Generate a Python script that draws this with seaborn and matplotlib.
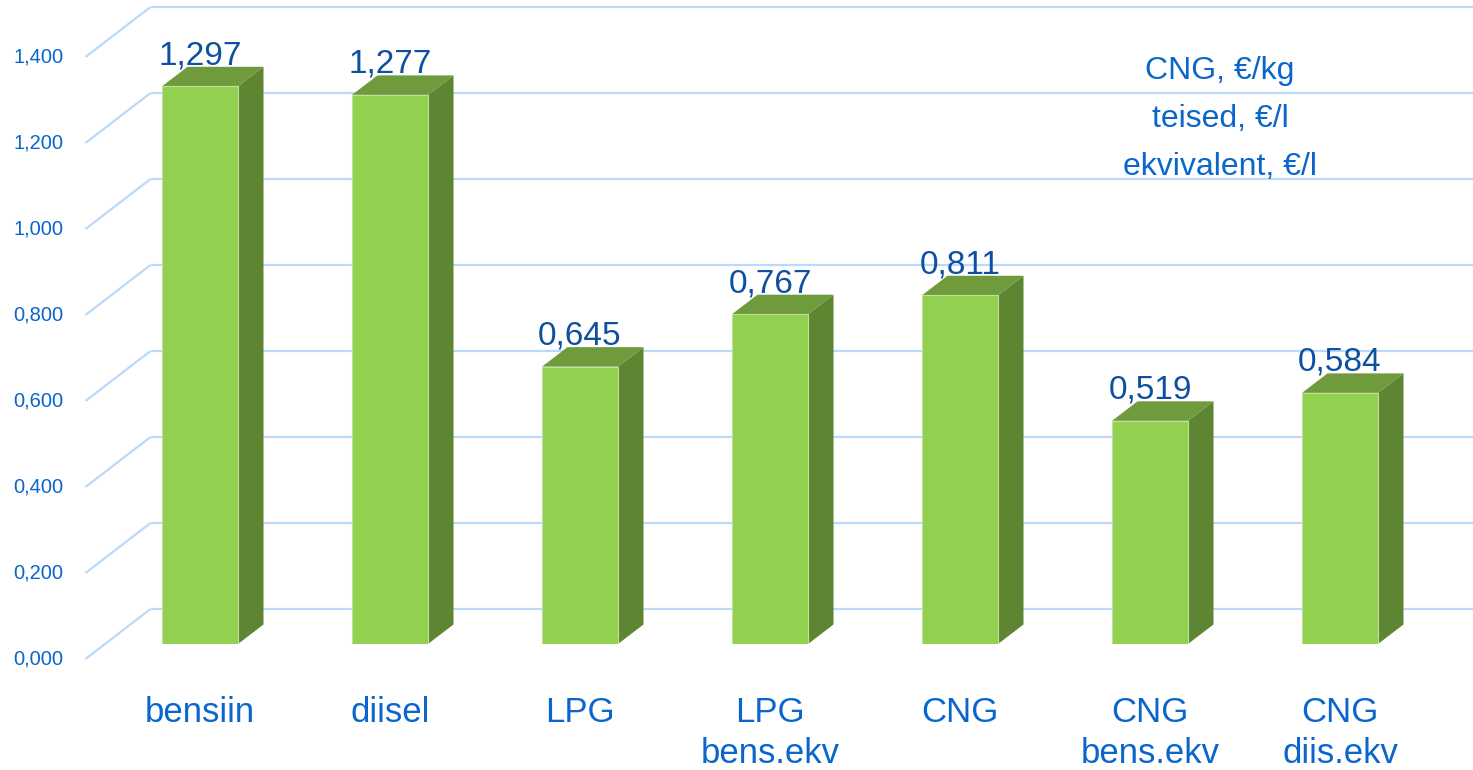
import matplotlib
matplotlib.use("Agg")
import matplotlib.pyplot as plt
import seaborn as sns
import pandas as pd
from matplotlib.patches import Polygon

# ---- data ----
categories = ["bensiin", "diisel", "LPG", "LPG\nbens.ekv", "CNG", "CNG\nbens.ekv", "CNG\ndiis.ekv"]
values = [1.297, 1.277, 0.645, 0.767, 0.811, 0.519, 0.584]
value_labels = ["1,297", "1,277", "0,645", "0,767", "0,811", "0,519", "0,584"]
yticks = [0.0, 0.2, 0.4, 0.6, 0.8, 1.0, 1.2, 1.4]
ytick_labels = ["0,000", "0,200", "0,400", "0,600", "0,800", "1,000", "1,200", "1,400"]
note_lines = ["CNG, €/kg", "teised, €/l", "ekvivalent, €/l"]

# ---- style ----
sns.set_theme(style="white")
REG = ["Liberation Sans", "DejaVu Sans"]
plt.rcParams["font.family"] = REG

FRONT = "#92D050"
TOP = "#709B3C"
SIDE = "#5E8532"
EDGE = "#C2E19E"
GRID = "#BBD9F8"
TICK = "#0A66CC"
CAT = "#0A66CC"
DATA = "#0E50A0"

W, H, DPI = 1473, 770, 100
fig = plt.figure(figsize=(W / DPI, H / DPI), dpi=DPI)
fig.patch.set_facecolor("white")
YMAX = 1.49
ax = fig.add_axes([105 / W, (H - 644) / H, 1330 / W, YMAX * 430 / H])

df = pd.DataFrame({"cat": categories, "val": values})
sns.barplot(data=df, x="cat", y="val", color=FRONT, saturation=1, width=0.4,
            edgecolor=EDGE, linewidth=0.8, ax=ax, zorder=3)
ax.set_xlim(-0.5, len(categories) - 0.5)
ax.set_ylim(0, YMAX)
ax.set_axis_off()

px_x = ax.bbox.width / len(categories)
px_y = ax.bbox.height / YMAX


def off(dx_px, dy_px):
    return dx_px / px_x, dy_px / px_y


# back wall / side wall gridlines
bx, by = off(45.5, 35)
fx, fy = off(-19.5, -15)
right = len(categories) - 0.5 + off(80, 0)[0]
left = -0.5
for v, lab in zip(yticks, ytick_labels):
    ax.plot([left + bx, right], [v + by, v + by], color=GRID, lw=1.6, zorder=1,
            clip_on=False, solid_capstyle="butt")
    ax.plot([left + fx, left + bx], [v + fy, v + by], color=GRID, lw=1.6, zorder=1,
            clip_on=False, solid_capstyle="butt")
    ax.annotate(lab, xy=(left + fx, v + fy), xytext=(-22, 0), textcoords="offset pixels",
                ha="right", va="center", fontsize=14.5, color=TICK,
                annotation_clip=False)

# 3D sides and tops of bars
dx, dy = off(25.5, 19.5)
bars = list(ax.patches)
for p, lab in zip(bars, value_labels):
    x0 = p.get_x()
    w = p.get_width()
    h = p.get_height()
    x1 = x0 + w
    side = Polygon([(x1, 0), (x1 + dx, dy), (x1 + dx, h + dy), (x1, h)], closed=True,
                   fc=SIDE, ec="none", zorder=2.9, clip_on=False)
    top = Polygon([(x0, h), (x0 + dx, h + dy), (x1 + dx, h + dy), (x1, h)], closed=True,
                  fc=TOP, ec="none", zorder=2.9, clip_on=False)
    ax.add_patch(side)
    ax.add_patch(top)
    ax.annotate(lab, xy=(x0 + w / 2, h), xytext=(0, 22), textcoords="offset pixels",
                ha="center", va="baseline", fontsize=24, color=DATA,
                zorder=5, annotation_clip=False)

# category labels
for i, cat in enumerate(categories):
    for j, line in enumerate(cat.split("\n")):
        ax.annotate(line, xy=(i, 0), xytext=(0, -78 - 41 * j), textcoords="offset pixels",
                    ha="center", va="baseline", fontsize=25, color=CAT,
                    annotation_clip=False)

# unit note
for k, line in enumerate(note_lines):
    fig.text(1220 / W, 1 - (79 + 48 * k) / H, line, ha="center", va="baseline",
             fontsize=23, color=CAT)

fig.savefig("out.png", dpi=DPI, facecolor="white")
